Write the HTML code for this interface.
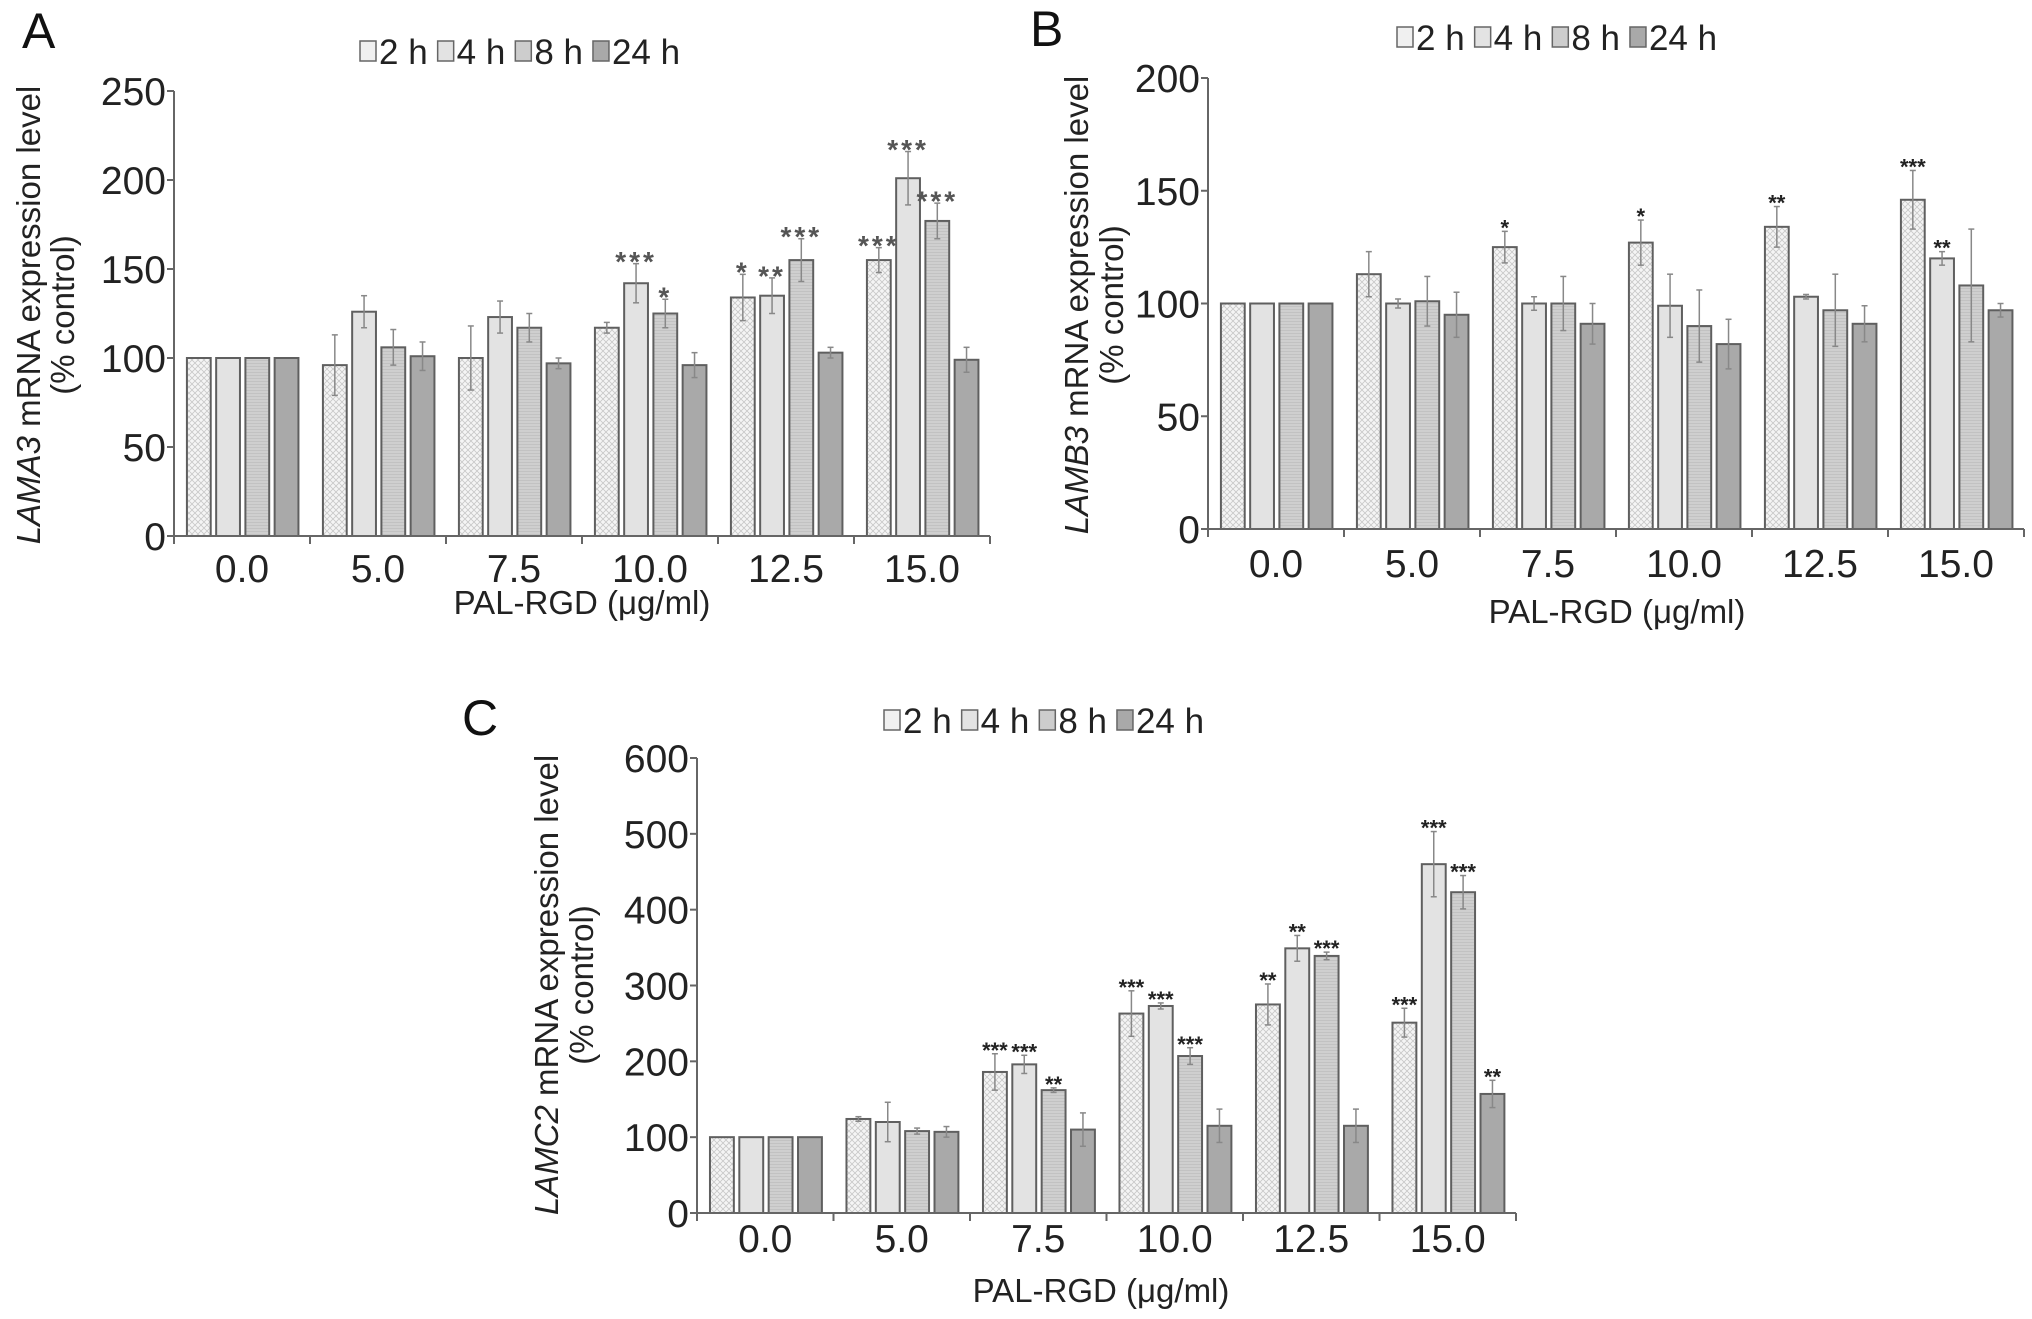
<!DOCTYPE html>
<html><head><meta charset="utf-8">
<style>
html,body{margin:0;padding:0;background:#fff;}
svg{display:block;font-family:"Liberation Sans",sans-serif;}
</style></head>
<body>
<svg id="fig" width="2032" height="1319" viewBox="0 0 2032 1319" xmlns="http://www.w3.org/2000/svg">
<defs>
<pattern id="dots" width="6" height="6" patternUnits="userSpaceOnUse">
<rect width="6" height="6" fill="#f5f5f5"/>
<path d="M0 0L6 6M6 0L0 6" stroke="#c8c8c8" stroke-width="0.8"/>
</pattern>
<pattern id="hlines" width="4" height="3" patternUnits="userSpaceOnUse">
<rect width="4" height="3" fill="#cfcfcf"/>
<line x1="0" y1="0.5" x2="4" y2="0.5" stroke="#c2c2c2" stroke-width="1"/>
</pattern>
</defs>
</svg>
<script>
const categories = ["0.0","5.0","7.5","10.0","12.5","15.0"];
const seriesNames = ["2 h","4 h","8 h","24 h"];

const aValues2h = [100,96,100,117,134,155];
const aValues4h = [100,126,123,142,135,201];
const aValues8h = [100,106,117,125,155,177];
const aValues24h = [100,101,97,96,103,99];
const aErr2h = [0,17,18,3,13,7];
const aErr4h = [0,9,9,11,10,15];
const aErr8h = [0,10,8,8,12,10];
const aErr24h = [0,8,3,7,3,7];
const aStars2h = ["","","","","*","***"];
const aStars4h = ["","","","***","**","***"];
const aStars8h = ["","","","*","***","***"];
const aStars24h = ["","","","","",""];
const aTicks = [0,50,100,150,200,250];

const bValues2h = [100,113,125,127,134,146];
const bValues4h = [100,100,100,99,103,120];
const bValues8h = [100,101,100,90,97,108];
const bValues24h = [100,95,91,82,91,97];
const bErr2h = [0,10,7,10,9,13];
const bErr4h = [0,2,3,14,1,3];
const bErr8h = [0,11,12,16,16,25];
const bErr24h = [0,10,9,11,8,3];
const bStars2h = ["","","*","*","**","***"];
const bStars4h = ["","","","","","**"];
const bStars8h = ["","","","","",""];
const bStars24h = ["","","","","",""];
const bTicks = [0,50,100,150,200];

const cValues2h = [100,124,186,263,275,251];
const cValues4h = [100,120,196,273,349,460];
const cValues8h = [100,108,162,207,339,423];
const cValues24h = [100,107,110,115,115,157];
const cErr2h = [0,3,24,30,27,19];
const cErr4h = [0,26,12,4,17,43];
const cErr8h = [0,4,3,11,5,22];
const cErr24h = [0,7,22,22,22,18];
const cStars2h = ["","","***","***","**","***"];
const cStars4h = ["","","***","***","**","***"];
const cStars8h = ["","","**","***","***","***"];
const cStars24h = ["","","","","","**"];
const cTicks = [0,100,200,300,400,500,600];

const NS = "http://www.w3.org/2000/svg";
const svg = document.getElementById("fig");
const fills = ["url(#dots)","#e3e3e3","url(#hlines)","#a9a9a9"];
const legendFills = ["#f0f0f0","#e3e3e3","#cdcdcd","#a9a9a9"];

function mk(tag, attrs, parent, text){
  const e = document.createElementNS(NS, tag);
  for (const k in attrs) e.setAttribute(k, attrs[k]);
  if (text !== undefined) e.textContent = text;
  (parent || svg).appendChild(e);
  return e;
}

function panel(cfg){
  const g = mk("g", {});
  
  
  const x0 = cfg.x0, x1 = cfg.x1, y0 = cfg.y0, yTop = cfg.yTop, maxV = cfg.ticks[cfg.ticks.length-1];
  const yScale = v => y0 - (v/maxV)*(y0 - yTop);
  const gw = (x1 - x0)/categories.length;
  const xBar = (ci, si) => x0 + ci*gw + gw*0.095 + si*gw*0.215;
  const bw = gw*0.175;

  const lt = mk("text", {x: cfg.letterX, y: cfg.letterY, "font-size": 50, fill: "#111"}, g, cfg.letter);
  
  

  let lx = cfg.legX;
  seriesNames.forEach((n, i) => {
    const item = mk("g", {}, g);
    
    
    mk("rect", {x: lx, y: cfg.legY - 10, width: 16, height: 20, fill: legendFills[i], stroke: "#666", "stroke-width": 1.5}, item);
    const t = mk("text", {x: lx + 19, y: cfg.legY + 13, "font-size": 35, fill: "#222"}, item, n);
    lx += 19 + t.getComputedTextLength() + 10;
  });

  cfg.values.forEach((arr, si) => {
    arr.forEach((v, ci) => {
      const bx = xBar(ci, si), by = yScale(v);
      const r = mk("rect", {x: bx, y: by, width: bw, height: y0 - by, fill: fills[si], stroke: "#5f5f5f", "stroke-width": 2}, g);
      
      
      const e = cfg.errs[si][ci];
      const cx = bx + bw/2;
      if (e > 0) {
        const eb = mk("g", {stroke: "#888", "stroke-width": 1.5}, g);
        
        
        mk("line", {x1: cx, y1: yScale(v - e), x2: cx, y2: yScale(v + e)}, eb);
        mk("line", {x1: cx-3, y1: yScale(v + e), x2: cx+3, y2: yScale(v + e)}, eb);
        mk("line", {x1: cx-3, y1: yScale(v - e), x2: cx+3, y2: yScale(v - e)}, eb);
      }
      const s = cfg.stars[si][ci];
      if (s) {
        const st = mk("text", {x: cx, y: yScale(v + e) - 8 + cfg.starSize*0.55, "font-size": cfg.starSize, "text-anchor": "middle", fill: cfg.starColor, "letter-spacing": cfg.starSpace, "font-weight": "bold"}, g, s);
        
        
      }
    });
  });

  const ax = mk("g", {stroke: "#666", "stroke-width": 2}, g);
  
  
  mk("line", {x1: x0, y1: yTop, x2: x0, y2: y0 + 8}, ax);
  mk("line", {x1: x0, y1: y0, x2: x1, y2: y0}, ax);
  for (let i = 0; i <= categories.length; i++) {
    mk("line", {x1: x0 + i*gw, y1: y0, x2: x0 + i*gw, y2: y0 + 8}, ax);
  }
  cfg.ticks.forEach(t => {
    mk("line", {x1: x0 - 7, y1: yScale(t), x2: x0, y2: yScale(t)}, ax);
    const tl = mk("text", {x: x0 - 8, y: yScale(t) + 14, "font-size": 39, "text-anchor": "end", fill: "#222"}, g, String(t));
    
    
  });
  categories.forEach((c, ci) => {
    const tl = mk("text", {x: x0 + ci*gw + gw/2, y: cfg.xLabY + 14, "font-size": 39, "text-anchor": "middle", fill: "#222"}, g, c);
    
    
  });
  const xt = mk("text", {x: cfg.xTitleX, y: cfg.xTitleY + 12, "font-size": 33, "text-anchor": "middle", fill: "#222"}, g, "PAL-RGD (\u03bcg/ml)");
  
  

  const yt = mk("text", {transform: `translate(${cfg.yT1},${cfg.yTitleY}) rotate(-90)`, "font-size": 33, "text-anchor": "middle", fill: "#222"}, g);
  
  
  mk("tspan", {"font-style": "italic"}, yt, cfg.gene);
  mk("tspan", {}, yt, " mRNA expression level");
  const yt2 = mk("text", {transform: `translate(${cfg.yT2},${cfg.yTitleY}) rotate(-90)`, "font-size": 33, "text-anchor": "middle", fill: "#222"}, g, "(% control)");
  
  
}

panel({name:"panel-a", letter:"A", letterX:22, letterY:48, legX:360, legY:51,
  x0:174, x1:990, y0:536, yTop:91, ticks:aTicks, xLabY:568, xTitleX:582, xTitleY:602,
  yT1:40, yT2:74, yTitleY:315, gene:"LAMA3",
  values:[aValues2h,aValues4h,aValues8h,aValues24h], errs:[aErr2h,aErr4h,aErr8h,aErr24h],
  stars:[aStars2h,aStars4h,aStars8h,aStars24h], starSize:28, starColor:"#555", starSpace:3});
panel({name:"panel-b", letter:"B", letterX:1030, letterY:46, legX:1397, legY:37,
  x0:1208, x1:2024, y0:529, yTop:78, ticks:bTicks, xLabY:563, xTitleX:1617, xTitleY:611,
  yT1:1088, yT2:1123, yTitleY:305, gene:"LAMB3",
  values:[bValues2h,bValues4h,bValues8h,bValues24h], errs:[bErr2h,bErr4h,bErr8h,bErr24h],
  stars:[bStars2h,bStars4h,bStars8h,bStars24h], starSize:22, starColor:"#222", starSpace:0});
panel({name:"panel-c", letter:"C", letterX:462, letterY:735, legX:884, legY:720,
  x0:697, x1:1516, y0:1213, yTop:758, ticks:cTicks, xLabY:1238, xTitleX:1101, xTitleY:1290,
  yT1:558, yT2:593, yTitleY:985, gene:"LAMC2",
  values:[cValues2h,cValues4h,cValues8h,cValues24h], errs:[cErr2h,cErr4h,cErr8h,cErr24h],
  stars:[cStars2h,cStars4h,cStars8h,cStars24h], starSize:22, starColor:"#222", starSpace:0});
</script>
</body></html>
